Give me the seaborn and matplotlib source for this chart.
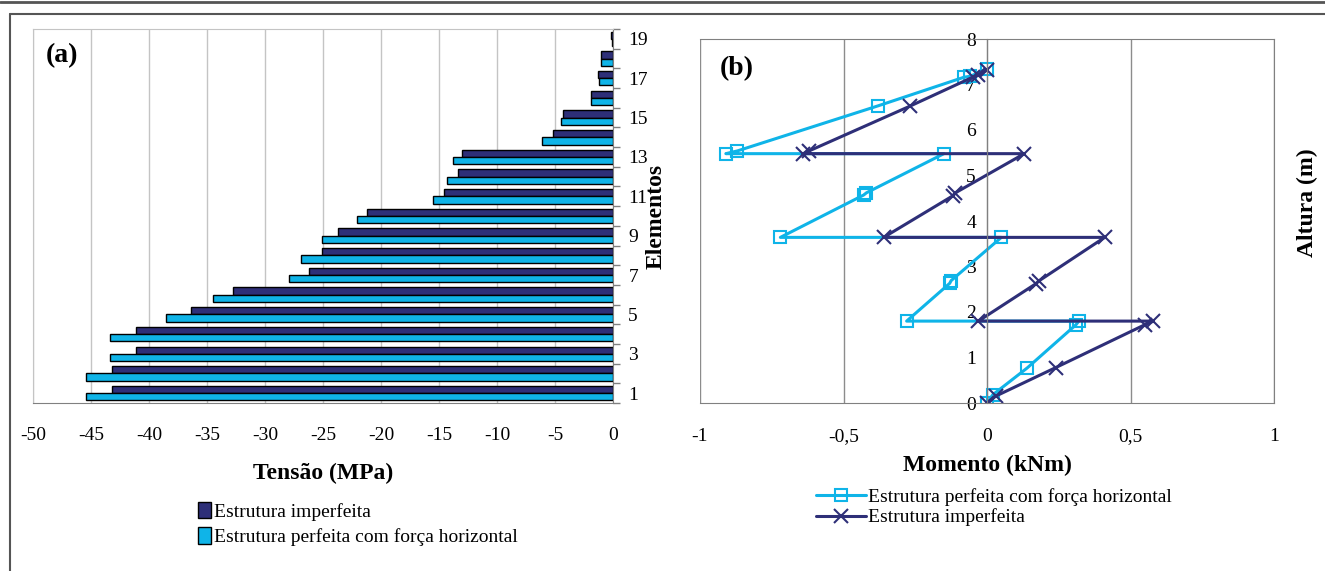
import numpy as np
import pandas as pd
import matplotlib
matplotlib.use("Agg")
import matplotlib.pyplot as plt
import seaborn as sns
from matplotlib.lines import Line2D
from matplotlib.ticker import FixedLocator

sns.set_style("white")
plt.rcParams["font.family"] = ["Liberation Serif", "DejaVu Serif"]
plt.rcParams["text.color"] = "black"
plt.rcParams["axes.labelcolor"] = "black"

# (a) tensões por elemento
elementos = list(range(1, 20))
tensao_imperfeita = [-43.2, -43.2, -41.1, -41.1, -36.4, -32.8, -26.2, -25.1, -23.7, -21.2,
                     -14.6, -13.4, -13.0, -5.2, -4.3, -1.9, -1.3, -1.0, -0.15]
tensao_perfeita = [-45.4, -45.4, -43.4, -43.4, -38.5, -34.5, -27.9, -26.9, -25.1, -22.1,
                   -15.5, -14.3, -13.8, -6.1, -4.5, -1.9, -1.2, -1.0, -0.1]
x_ticks_a = [-50, -45, -40, -35, -30, -25, -20, -15, -10, -5, 0]

# (b) momentos ao longo da altura
mom_perfeita = [0.0, 0.02, 0.14, 0.31, 0.32, -0.28, -0.13, -0.125, 0.05, -0.72, -0.43, -0.42,
                -0.15, -0.91, -0.87, -0.38, -0.08, -0.06, 0.0]
alt_perfeita = [0.0, 0.18, 0.77, 1.72, 1.80, 1.80, 2.63, 2.69, 3.64, 3.64, 4.57, 4.62,
                5.48, 5.48, 5.54, 6.53, 7.16, 7.18, 7.33]
mom_imperfeita = [0.0, 0.03, 0.24, 0.55, 0.58, -0.03, 0.17, 0.18, 0.41, -0.36, -0.12, -0.11,
                  0.13, -0.64, -0.62, -0.27, -0.05, -0.03, 0.0]
alt_imperfeita = [0.0, 0.15, 0.78, 1.72, 1.80, 1.80, 2.62, 2.68, 3.64, 3.64, 4.55, 4.62,
                  5.48, 5.48, 5.54, 6.52, 7.16, 7.20, 7.32]
x_ticks_b = [-1, -0.5, 0, 0.5, 1]
x_labels_b = ["-1", "-0,5", "0", "0,5", "1"]
y_ticks_b = [0, 1, 2, 3, 4, 5, 6, 7, 8]

lab_imp = "Estrutura imperfeita"
lab_perf = "Estrutura perfeita com força horizontal"
navy = "#2E2F78"
cyan = "#0FB4E8"

fig = plt.figure(figsize=(13.25, 5.71), dpi=100)

# moldura externa
fig.add_artist(Line2D([0, 1], [0.997, 0.997], color="#555555", lw=2))
fig.add_artist(Line2D([10 / 1325, 1], [1 - 14 / 571, 1 - 14 / 571], color="#555555", lw=1.5))
fig.add_artist(Line2D([10 / 1325, 10 / 1325], [0, 1 - 14 / 571], color="#555555", lw=1.5))

# ---------- (a)
ax1 = fig.add_axes([33 / 1325, 1 - 403 / 571, 580 / 1325, 374 / 571])
df_a = pd.DataFrame({
    "Elemento": [str(e) for e in elementos] * 2,
    "Tensao": tensao_imperfeita + tensao_perfeita,
    "Serie": [lab_imp] * len(elementos) + [lab_perf] * len(elementos),
})
ordem = [str(e) for e in elementos[::-1]]
sns.barplot(data=df_a, x="Tensao", y="Elemento", hue="Serie", order=ordem,
            hue_order=[lab_imp, lab_perf], palette={lab_imp: navy, lab_perf: cyan},
            saturation=1, orient="h", width=0.74, edgecolor="black", linewidth=1.0, ax=ax1)
handles_a, labels_a = ax1.get_legend_handles_labels()
ax1.get_legend().remove()

ax1.set_xlim(-50, 0)
ax1.set_ylim(len(elementos) - 0.5, -0.5)
ax1.set_xticks(x_ticks_a)
ax1.set_xticklabels([str(t) for t in x_ticks_a])
ax1.xaxis.grid(True, color="#C4C4C4", lw=1)
ax1.set_axisbelow(True)
ax1.yaxis.tick_right()
pos_labels = [i for i, e in enumerate(ordem) if int(e) % 2 == 1]
ax1.set_yticks(pos_labels)
ax1.set_yticklabels([ordem[i] for i in pos_labels])
ax1.yaxis.set_minor_locator(FixedLocator(np.arange(-0.5, len(elementos), 1.0)))
ax1.tick_params(axis="y", which="major", length=0, pad=11, labelsize=14, labelcolor="black")
ax1.tick_params(axis="y", which="minor", length=5, width=1, color="#808080", direction="out", right=True, left=False)
ax1.tick_params(axis="x", length=5, width=1, color="#808080", direction="out", pad=12, labelsize=14,
                labelcolor="black")
for s in ["left", "top"]:
    ax1.spines[s].set_color("#C4C4C4")
for s in ["right", "bottom"]:
    ax1.spines[s].set_color("#808080")
ax1.set_xlabel("Tensão (MPa)", fontsize=17, fontweight="bold", labelpad=14)
ax1.set_ylabel("Elementos", fontsize=17, fontweight="bold")
ax1.yaxis.set_label_position("right")
ax1.yaxis.set_label_coords(1.056, 0.5)
ax1.text(0.05, 0.93, "(a)", transform=ax1.transAxes, fontsize=20, fontweight="bold",
         ha="center", va="center")
fig.legend(handles_a, labels_a, loc="upper left", bbox_to_anchor=(190 / 1325, 1 - 494 / 571),
           frameon=False, fontsize=14, handlelength=0.7, handleheight=0.9, handletextpad=0.15,
           labelspacing=0.35, borderaxespad=0)

# ---------- (b)
ax2 = fig.add_axes([700 / 1325, 1 - 403 / 571, 574 / 1325, 364 / 571])
sns.lineplot(x=mom_perfeita, y=alt_perfeita, sort=False, estimator=None, color=cyan, lw=2.2,
             marker="s", markersize=8, markerfacecolor="none", markeredgecolor=cyan,
             markeredgewidth=1.5, label=lab_perf, ax=ax2)
sns.lineplot(x=mom_imperfeita, y=alt_imperfeita, sort=False, estimator=None, color=navy, lw=2.2,
             marker="x", markersize=10, markeredgewidth=1.5, markeredgecolor=navy,
             label=lab_imp, ax=ax2)
handles_b, labels_b = ax2.get_legend_handles_labels()
ax2.get_legend().remove()

ax2.set_xlim(-1, 1)
ax2.set_ylim(0, 8)
ax2.set_xticks(x_ticks_b)
ax2.set_xticklabels(x_labels_b)
ax2.set_yticks(y_ticks_b)
ax2.set_yticklabels([str(t) for t in y_ticks_b])
ax2.xaxis.grid(True, color="#8C8C8C", lw=1)
ax2.set_axisbelow(True)
ax2.spines["left"].set_position(("data", 0))
for s in ax2.spines.values():
    s.set_color("#808080")
ax2.tick_params(axis="y", length=12, width=1, color="#808080", direction="inout", pad=2, labelsize=14,
                labelcolor="black")
ax2.tick_params(axis="x", length=8, width=1, color="#808080", direction="inout", pad=14, labelsize=14,
                labelcolor="black")
ax2.set_xlabel("Momento (kNm)", fontsize=17, fontweight="bold", labelpad=7)
ax2.set_ylabel("Altura (m)", fontsize=17, fontweight="bold")
ax2.yaxis.set_label_coords(1.077, 0.55)
ax2.text(0.064, 0.92, "(b)", transform=ax2.transAxes, fontsize=20, fontweight="bold",
         ha="center", va="center")
fig.legend(handles_b, labels_b, loc="upper left", bbox_to_anchor=(808 / 1325, 1 - 480 / 571),
           frameon=False, fontsize=14, handlelength=2.6, handletextpad=0.1,
           labelspacing=0.15, borderaxespad=0)

fig.savefig("out.png", dpi=100)
